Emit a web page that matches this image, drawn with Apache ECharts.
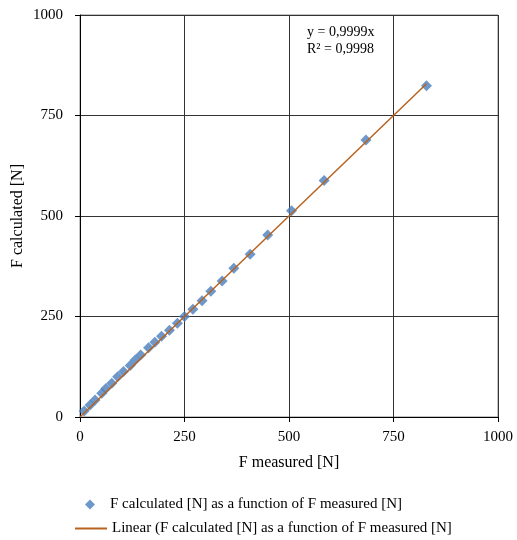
<!DOCTYPE html>
<html>
<head>
<meta charset="utf-8">
<script src="https://cdn.jsdelivr.net/npm/echarts@6/dist/echarts.min.js"></script>
<style>
  html, body { margin: 0; padding: 0; background: #fff; }
  #chart { width: 517px; height: 540px; }
</style>
</head>
<body>
<div id="chart"></div>
<script>
// measured vs calculated force [N]
const fMeasured = [10, 24, 36, 52, 62, 76, 90, 104, 120, 132, 145, 164, 179, 195, 214, 233, 250, 270, 292, 313, 340, 368, 407, 449, 506, 584, 684, 829]
const fCalculated = [15, 30, 42, 59, 71, 84, 100, 113, 128, 142, 154, 172, 186, 201, 216, 233, 250, 268, 289, 313, 338, 370, 405, 453, 513, 588, 689, 824]
const xTicks = [0, 250, 500, 750, 1000]
const slope = 0.9999
const r2 = 0.9998

const SERIES_NAME = 'F calculated [N] as a function of F measured [N]'
const TREND_NAME = 'Linear (F calculated [N] as a function of F measured [N]'
const FONT = 'Liberation Serif'

const points = fMeasured.map((x, i) => [x, fCalculated[i]])
const xMax = Math.max(...fMeasured)
const trend = [[0, 0], [xMax, slope * xMax]]

const chart = echarts.init(document.getElementById('chart'))

const axisCommon = {
  type: 'value',
  min: xTicks[0],
  max: xTicks[xTicks.length - 1],
  interval: 250,
  axisLine: { show: true, lineStyle: { color: '#000', width: 1 } },
  axisTick: { show: true, inside: false, length: 5, lineStyle: { color: '#000' } },
  axisLabel: { color: '#000', fontFamily: FONT, fontSize: 15, formatter: v => String(v) },
  splitLine: { show: true, lineStyle: { color: '#333', width: 1 } },
  nameLocation: 'middle',
  nameMoveOverlap: false,
  nameTextStyle: { color: '#000', fontFamily: FONT, fontSize: 16 },
}

const legendText = { color: '#000', fontFamily: FONT, fontSize: 15 }

chart.setOption({
  animation: false,
  grid: {
    left: 80, top: 15, width: 418, height: 402,
    outerBoundsMode: 'none', containLabel: false,
    show: true, borderColor: '#888', borderWidth: 1,
  },
  xAxis: { ...axisCommon, name: 'F measured [N]', nameGap: 38, axisLabel: { ...axisCommon.axisLabel, margin: 13 } },
  yAxis: { ...axisCommon, name: 'F calculated [N]', nameGap: 54, axisLabel: { ...axisCommon.axisLabel, margin: 17 } },
  legend: [
    {
      left: 80,
      top: 492,
      itemWidth: 10,
      itemHeight: 10,
      textStyle: { ...legendText, padding: [0, 0, 0, 10] },
      data: [{ name: SERIES_NAME, icon: 'diamond' }],
    },
    {
      left: 70,
      top: 516,
      itemWidth: 32,
      itemHeight: 2,
      textStyle: { ...legendText },
      data: [{ name: TREND_NAME, icon: 'rect' }],
    },
  ],
  graphic: [{
    type: 'text',
    left: 307,
    top: 24,
    style: {
      text: 'y = ' + slope.toFixed(4).replace('.', ',') + 'x\nR² = ' + r2.toFixed(4).replace('.', ','),
      fontFamily: FONT,
      fontSize: 14,
      lineHeight: 17,
      fill: '#000',
    },
  }],
  series: [
    {
      name: TREND_NAME,
      type: 'line',
      data: trend,
      symbol: 'none',
      lineStyle: { color: '#B8621F', width: 1.5 },
      itemStyle: { color: '#B8621F' },
      z: 3,
    },
    {
      name: SERIES_NAME,
      type: 'scatter',
      data: points,
      symbol: 'diamond',
      symbolSize: 11,
      itemStyle: { color: '#4A7EBB' },
      z: 2,
    },
  ],
})
</script>
</body>
</html>
